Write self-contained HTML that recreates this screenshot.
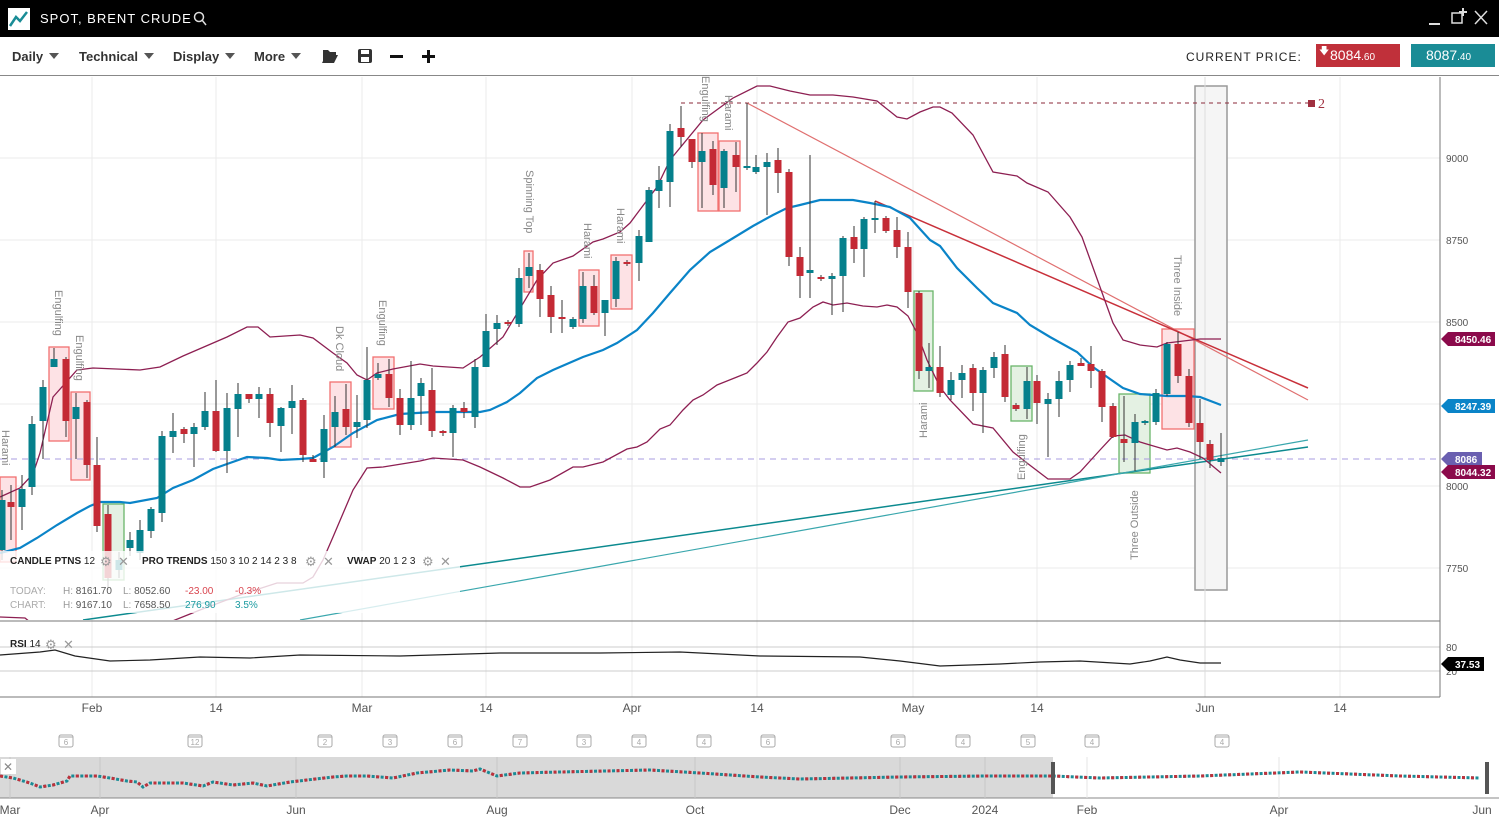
<!DOCTYPE html>
<html><head><meta charset="utf-8">
<style>
*{margin:0;padding:0;box-sizing:border-box}
body{width:1499px;height:827px;overflow:hidden;background:#fff;font-family:"Liberation Sans",sans-serif;position:relative}
.hdr{position:absolute;left:0;top:0;width:1499px;height:37px;background:#000}
.tb{position:absolute;left:0;top:37px;width:1499px;height:39px;border-bottom:1px solid #888;background:#fff}
.mi{position:absolute;top:12px;font-size:13px;font-weight:bold;color:#333}
.tri{display:inline-block;width:0;height:0;border-left:5px solid transparent;border-right:5px solid transparent;border-top:6px solid #555;margin-left:6px;vertical-align:2px}
svg{position:absolute;left:0;top:0}
</style></head><body>
<div class="hdr">
 <div style="position:absolute;left:8px;top:8px;width:22px;height:22px;background:#fff"></div>
 <svg width="40" height="37"><polyline points="10,26 16,17 20,21 27,12" fill="none" stroke="#1a8c96" stroke-width="2.5"/></svg>
 <div style="position:absolute;left:40px;top:11px;color:#fff;font-size:13px;letter-spacing:1px">SPOT, BRENT CRUDE</div>
 <svg width="1499" height="37"><circle cx="199" cy="17" r="4.5" fill="none" stroke="#ddd" stroke-width="1.5"/><line x1="202" y1="20" x2="206" y2="25" stroke="#ddd" stroke-width="1.5"/>
 <line x1="1429" y1="24" x2="1440" y2="24" stroke="#ddd" stroke-width="2"/>
 <rect x="1452" y="13" width="10" height="10" fill="none" stroke="#ddd" stroke-width="1.5"/><path d="M1463 8v8M1459 12h8" stroke="#ddd" stroke-width="2"/>
 <path d="M1475 11l12 13M1487 11l-12 13" stroke="#ddd" stroke-width="1.5"/></svg>
</div>
<div class="tb">
 <div class="mi" style="left:12px">Daily<span class="tri"></span></div>
 <div class="mi" style="left:79px">Technical<span class="tri"></span></div>
 <div class="mi" style="left:173px">Display<span class="tri"></span></div>
 <div class="mi" style="left:254px">More<span class="tri"></span></div>
 <svg width="460" height="39"><path d="M323 13h5l2 2h6v3h-10l-3 8z M322 26l4-8h12l-4 8z" fill="#333"/>
 <rect x="358" y="12" width="14" height="14" rx="2" fill="#333"/><rect x="361" y="13" width="8" height="4" fill="#fff"/><rect x="361" y="20" width="8" height="5" fill="#fff"/>
 <rect x="390" y="18" width="13" height="3" fill="#111"/><rect x="422" y="18" width="13" height="3" fill="#111"/><rect x="427" y="13" width="3" height="13" fill="#111"/></svg>
 <div style="position:absolute;left:1186px;top:13px;font-size:12px;letter-spacing:1px;color:#222">CURRENT PRICE:</div>
 <div style="position:absolute;left:1316px;top:7px;width:84px;height:23px;background:#c0303a;color:#fff;font-size:14px;padding:3px 0 0 14px">8084<span style="font-size:10px">.60</span><span style="position:absolute;left:3px;top:0;font-size:10px">&#129095;</span></div>
 <div style="position:absolute;left:1411px;top:7px;width:84px;height:23px;background:#1a8c96;color:#fff;font-size:14px;padding:3px 0 0 15px">8087<span style="font-size:10px">.40</span></div>
</div>

<svg id="c" width="1499" height="827" style="top:0">
<defs><clipPath id="cp"><rect x="0" y="77" width="1440" height="543"/></clipPath></defs>
<g stroke="#ebebeb" stroke-width="1">
 <line x1="92" y1="77" x2="92" y2="697"/><line x1="216" y1="77" x2="216" y2="697"/><line x1="362" y1="77" x2="362" y2="697"/><line x1="486" y1="77" x2="486" y2="697"/><line x1="632" y1="77" x2="632" y2="697"/><line x1="757" y1="77" x2="757" y2="697"/><line x1="913" y1="77" x2="913" y2="697"/><line x1="1037" y1="77" x2="1037" y2="697"/><line x1="1340" y1="77" x2="1340" y2="697"/>
 <line x1="0" y1="158" x2="1440" y2="158"/><line x1="0" y1="240" x2="1440" y2="240"/><line x1="0" y1="322" x2="1440" y2="322"/><line x1="0" y1="404" x2="1440" y2="404"/><line x1="0" y1="486" x2="1440" y2="486"/><line x1="0" y1="568" x2="1440" y2="568"/>
 <line x1="0" y1="647" x2="1440" y2="647" stroke="#ccc"/><line x1="0" y1="671" x2="1440" y2="671" stroke="#ccc"/>
</g>
<rect x="1195" y="86" width="32" height="504" fill="#f5f5f5" stroke="#999" stroke-width="1.5"/>
<line x1="1205" y1="77" x2="1205" y2="697" stroke="#ddd"/>
<g clip-path="url(#cp)">
<g id="boxes"></g>
<line x1="0" y1="459" x2="1440" y2="459" stroke="#a89ce0" stroke-dasharray="6,5"/>
<line x1="681" y1="103" x2="1310" y2="103" stroke="#8b2a3a" stroke-dasharray="4,4"/>
<rect x="1308" y="100" width="7" height="7" fill="#a03040"/>
<line x1="747" y1="103" x2="1308" y2="400" stroke="#e07070" stroke-width="1.2"/>
<line x1="875" y1="201" x2="1308" y2="388" stroke="#c8303a" stroke-width="1.5"/>
<line x1="83" y1="620" x2="1308" y2="447" stroke="#0c8a8f" stroke-width="1.5"/>
<line x1="300" y1="620" x2="1308" y2="440" stroke="#3aa7ad" stroke-width="1.2"/>
<polyline fill="none" stroke="#8d1f52" stroke-width="1.3" points="0,497 20,488 33,474 40,453 53,397 77,370 93,368 140,370 160,367 183,356 227,337 247,327 258,327 270,337 300,335 313,338 333,353 347,363 357,375 367,380 377,373 393,369 420,364 433,366 463,368 480,357 503,337 537,280 553,263 573,256 593,242 603,239 620,232 630,223 657,187 670,160 703,120 733,98 757,86 770,86 790,91 810,95 833,95 853,97 877,101 897,117 907,119 920,112 933,107 940,107 952,113 973,135 993,172 1017,176 1027,183 1048,192 1070,217 1082,237 1100,287 1113,323 1123,340 1140,345 1157,347 1167,343 1200,339 1221,339"/>
<polyline fill="none" stroke="#8d1f52" stroke-width="1.3" points="0,617 25,618 40,630 60,650 150,650 170,622 200,610 240,595 277,583 303,583 313,577 323,560 333,537 353,490 367,468 383,467 420,461 433,458 463,460 480,467 503,478 520,487 530,487 550,480 573,467 583,467 603,462 627,449 637,447 647,442 660,429 670,425 683,410 693,400 703,395 717,385 737,377 747,373 757,363 767,352 777,337 788,322 800,318 813,307 823,302 833,305 847,303 863,306 877,307 887,305 897,307 908,316 917,333 927,360 940,387 950,400 973,424 993,428 1013,452 1027,463 1048,479 1070,479 1080,472 1100,450 1113,436 1125,435 1140,442 1167,450 1177,448 1190,452 1203,458 1221,473"/>
<polyline fill="none" stroke="#0a84c8" stroke-width="2.2" points="0,553 20,548 37,538 57,525 77,513 90,506 100,502 120,502 130,503 157,498 173,488 193,480 213,469 227,464 247,457 267,458 280,460 300,459 313,458 333,447 353,433 377,420 400,414 433,412 480,412 490,410 507,402 520,393 537,378 553,370 583,357 603,350 617,343 637,330 653,313 670,293 690,270 710,252 730,240 753,226 773,215 787,208 800,205 820,200 853,200 870,203 890,207 910,218 930,240 940,246 957,268 977,288 993,303 1017,313 1030,325 1050,337 1077,352 1093,367 1110,379 1123,388 1140,394 1167,396 1187,396 1200,397 1221,405"/>
<g id="candles"></g>
</g>
<g font-size="11" fill="#888" font-family="Liberation Sans,sans-serif">
 <text transform="translate(2,430) rotate(90)">Harami</text>
 <text transform="translate(55,290) rotate(90)">Engulfing</text>
 <text transform="translate(76,335) rotate(90)">Engulfing</text>
 <text transform="translate(336,326) rotate(90)">Dk Cloud</text>
 <text transform="translate(379,300) rotate(90)">Engulfing</text>
 <text transform="translate(526,170) rotate(90)">Spinning Top</text>
 <text transform="translate(584,223) rotate(90)">Harami</text>
 <text transform="translate(617,208) rotate(90)">Harami</text>
 <text transform="translate(702,76) rotate(90)">Engulfing</text>
 <text transform="translate(725,95) rotate(90)">Harami</text>
 <text transform="translate(1174,255) rotate(90)">Three Inside</text>
 <text transform="translate(927,438) rotate(-90)">Harami</text>
 <text transform="translate(1025,480) rotate(-90)">Engulfing</text>
 <text transform="translate(1138,560) rotate(-90)">Three Outside</text>
</g>
<text x="1318" y="108" font-size="14" fill="#a03040" font-family="Liberation Serif,serif">2</text>
<rect x="0" y="551" width="460" height="62" fill="#fff" opacity="0.8"/>
<g font-size="10" fill="#222" font-family="Liberation Sans,sans-serif">
 <text x="10" y="564"><tspan font-weight="bold">CANDLE PTNS</tspan> 12</text>
 <text x="142" y="564"><tspan font-weight="bold">PRO TRENDS</tspan> 150 3 10 2 14 2 3 8</text>
 <text x="347" y="564"><tspan font-weight="bold">VWAP</tspan> 20 1 2 3</text>
 <text x="10" y="594" fill="#aaa">TODAY:</text><text x="63" y="594" fill="#999">H: <tspan fill="#555">8161.70</tspan></text><text x="123" y="594" fill="#999">L: <tspan fill="#555">8052.60</tspan></text><text x="185" y="594" fill="#d9454f">-23.00</text><text x="235" y="594" fill="#d9454f">-0.3%</text>
 <text x="10" y="608" fill="#aaa">CHART:</text><text x="63" y="608" fill="#999">H: <tspan fill="#555">9167.10</tspan></text><text x="123" y="608" fill="#999">L: <tspan fill="#555">7658.50</tspan></text><text x="185" y="608" fill="#1a9aa0">276.90</text><text x="235" y="608" fill="#1a9aa0">3.5%</text>
 <text x="10" y="647"><tspan font-weight="bold">RSI</tspan> 14</text>
</g>
<g fill="#999" font-size="13" font-weight="bold" font-family="DejaVu Sans,sans-serif">
 <text x="100" y="566">⚙</text><text x="118" y="566">✕</text>
 <text x="305" y="566">⚙</text><text x="323" y="566">✕</text>
 <text x="422" y="566">⚙</text><text x="440" y="566">✕</text>
 <text x="45" y="649">⚙</text><text x="63" y="649">✕</text>
</g>
<line x1="0" y1="621" x2="1440" y2="621" stroke="#777"/>
<line x1="0" y1="697" x2="1440" y2="697" stroke="#777"/>
<line x1="1440" y1="77" x2="1440" y2="697" stroke="#777"/>
<polyline fill="none" stroke="#222" stroke-width="1.2" points="0,655 40,652 55,650 75,656 110,661 150,660 200,657 250,658 300,655 400,656 500,653 600,653 680,652 760,656 860,657 900,661 940,666 1000,664 1040,662 1080,661 1130,664 1150,661 1167,657 1180,660 1200,663 1221,663"/>
<g font-size="10" fill="#555" font-family="Liberation Sans,sans-serif">
 <text x="1446" y="162">9000</text><text x="1446" y="244">8750</text><text x="1446" y="326">8500</text><text x="1446" y="490">8000</text><text x="1446" y="572">7750</text><text x="1446" y="651">80</text><text x="1446" y="675">20</text>
</g>
<g font-size="10" font-weight="bold" fill="#fff" font-family="Liberation Sans,sans-serif">
 <path d="M1441 339l7-7h47v14h-47z" fill="#8b0a4b"/><text x="1455" y="343">8450.46</text>
 <path d="M1441 406l7-7h47v14h-47z" fill="#0a84c8"/><text x="1455" y="410">8247.39</text>
 <path d="M1441 459l7-7h34v14h-34z" fill="#6a5fb0"/><text x="1455" y="463">8086</text>
 <path d="M1441 472l7-7h47v14h-47z" fill="#8b0a4b"/><text x="1455" y="476">8044.32</text>
 <path d="M1441 664l7-7h36v14h-36z" fill="#000"/><text x="1455" y="668">37.53</text>
</g>
<g font-size="12" fill="#555" text-anchor="middle" font-family="Liberation Sans,sans-serif">
 <text x="92" y="712">Feb</text><text x="216" y="712">14</text><text x="362" y="712">Mar</text><text x="486" y="712">14</text><text x="632" y="712">Apr</text><text x="757" y="712">14</text><text x="913" y="712">May</text><text x="1037" y="712">14</text><text x="1205" y="712">Jun</text><text x="1340" y="712">14</text>
</g>
<g id="cal" font-size="8" fill="#aaa" text-anchor="middle" font-family="Liberation Sans,sans-serif"></g>
<rect x="0" y="757" width="1053" height="41" fill="#d9d9d9"/>
<line x1="0" y1="798" x2="1499" y2="798" stroke="#888"/>
<g stroke="#c8c8c8"><line x1="10" y1="757" x2="10" y2="798"/><line x1="100" y1="757" x2="100" y2="798"/><line x1="296" y1="757" x2="296" y2="798"/><line x1="497" y1="757" x2="497" y2="798"/><line x1="695" y1="757" x2="695" y2="798"/><line x1="900" y1="757" x2="900" y2="798"/><line x1="985" y1="757" x2="985" y2="798"/><line x1="1087" y1="757" x2="1087" y2="798" stroke="#e6e6e6"/><line x1="1279" y1="757" x2="1279" y2="798" stroke="#e6e6e6"/></g>
<polyline fill="none" stroke="#1a8c96" stroke-width="3" stroke-dasharray="3,1.5" points="0,776 13,778 30,783 40,787 53,785 67,781 70,776 97,776 110,778 127,781 137,782 143,787 150,783 183,783 203,786 213,782 233,785 253,783 267,786 290,782 307,780 333,777 347,776 367,776 393,778 417,773 450,770 473,771 480,769 497,776 520,773 560,772 650,770 700,773 760,777 800,779 900,777 985,776 1053,776 1100,778 1200,776 1300,772 1400,776 1480,778"/>
<polyline fill="none" stroke="#c0303a" stroke-width="3" stroke-dasharray="3,6" points="0,776 13,778 30,783 40,787 53,785 67,781 70,776 97,776 110,778 127,781 137,782 143,787 150,783 183,783 203,786 213,782 233,785 253,783 267,786 290,782 307,780 333,777 347,776 367,776 393,778 417,773 450,770 473,771 480,769 497,776 520,773 560,772 650,770 700,773 760,777 800,779 900,777 985,776 1053,776 1100,778 1200,776 1300,772 1400,776 1480,778"/>
<rect x="1051" y="762" width="4" height="32" fill="#555"/><rect x="1485" y="762" width="4" height="32" fill="#555"/>
<rect x="1" y="759" width="15" height="15" fill="#fff"/><text x="3" y="771" font-size="12" font-weight="bold" fill="#888" font-family="DejaVu Sans,sans-serif">✕</text>
<g font-size="12" fill="#555" text-anchor="middle" font-family="Liberation Sans,sans-serif">
 <text x="10" y="814">Mar</text><text x="100" y="814">Apr</text><text x="296" y="814">Jun</text><text x="497" y="814">Aug</text><text x="695" y="814">Oct</text><text x="900" y="814">Dec</text><text x="985" y="814">2024</text><text x="1087" y="814">Feb</text><text x="1279" y="814">Apr</text><text x="1482" y="814">Jun</text>
</g>
</svg>
<script>
var NS="http://www.w3.org/2000/svg";
function el(p,t,a){var e=document.createElementNS(NS,t);for(var k in a)e.setAttribute(k,a[k]);p.appendChild(e);return e;}
var B=[[0,477,16,85,'p'],[49,347,20,94,'p'],[71,392,19,88,'p'],[103,504,21,76,'g'],[330,382,21,65,'p'],[373,357,21,52,'p'],[524,251,9,41,'p'],[579,270,20,56,'p'],[611,255,21,54,'p'],[698,133,20,78,'p'],[719,141,21,70,'p'],[914,291,19,100,'g'],[1011,366,21,55,'g'],[1119,394,31,79,'g'],[1162,329,32,100,'p']];
var bg=document.getElementById('boxes');
B.forEach(function(b){el(bg,'rect',{x:b[0],y:b[1],width:b[2],height:b[3],fill:b[4]=='p'?'#fde2e5':'#e4f1e3',stroke:b[4]=='p'?'#f27070':'#6ab56a','stroke-width':1.3});});
var C=[[2,500,550,490,560,'g'],[11,502,507,485,540,'r'],[22,489,507,475,530,'g'],[32,424,487,416,495,'g'],[43,387,421,380,459,'g'],[54,359,367,348,367,'g'],[66,359,421,357,437,'r'],[76,407,419,393,459,'g'],[87,402,465,400,478,'r'],[97,465,526,437,532,'r'],[108,514,578,505,590,'r'],[119,560,570,552,578,'g'],[130,540,548,532,556,'g'],[140,530,553,520,560,'g'],[151,509,531,507,538,'g'],[162,436,513,431,522,'g'],[173,431,437,413,453,'g'],[184,429,434,427,443,'r'],[194,427,434,423,467,'g'],[205,411,427,392,430,'g'],[216,411,451,380,452,'r'],[227,408,451,393,473,'g'],[238,394,409,383,437,'g'],[249,394,399,394,403,'r'],[259,394,399,387,418,'g'],[270,394,423,388,437,'r'],[281,408,426,407,452,'g'],[292,401,408,385,434,'g'],[303,400,455,398,462,'r'],[313,459,462,455,462,'r'],[324,429,462,415,478,'g'],[335,412,427,396,447,'g'],[346,409,427,384,435,'r'],[357,422,427,395,438,'g'],[367,380,420,347,428,'g'],[378,374,378,363,380,'g'],[389,374,398,359,407,'r'],[400,398,425,389,435,'r'],[411,398,425,361,430,'g'],[421,383,396,378,425,'g'],[432,390,431,368,437,'r'],[443,431,433,430,436,'r'],[453,408,433,405,457,'g'],[464,408,412,402,418,'r'],[475,367,417,359,428,'g'],[486,331,367,314,367,'g'],[497,323,329,315,345,'g'],[508,322,324,320,326,'r'],[519,278,324,268,327,'g'],[529,267,276,253,288,'g'],[540,270,299,264,317,'r'],[551,295,317,286,333,'r'],[562,317,319,300,333,'r'],[573,319,327,317,329,'g'],[583,286,319,272,323,'g'],[594,286,313,275,315,'r'],[605,300,313,300,336,'g'],[616,261,299,257,307,'g'],[627,262,264,260,266,'r'],[639,236,263,230,281,'g'],[649,190,242,187,242,'g'],[659,180,191,166,208,'g'],[670,131,182,124,207,'g'],[681,128,137,106,147,'r'],[692,139,162,139,168,'r'],[702,151,162,133,208,'g'],[713,149,185,141,195,'r'],[724,151,188,149,208,'g'],[736,155,167,142,192,'r'],[747,166,168,103,170,'g'],[756,167,172,155,174,'g'],[767,162,167,153,215,'g'],[778,160,173,148,193,'r'],[789,172,257,169,266,'r'],[800,257,276,247,298,'r'],[810,270,273,155,298,'g'],[821,277,279,275,281,'r'],[832,276,279,273,315,'g'],[843,238,276,236,312,'g'],[854,237,249,226,263,'r'],[864,219,249,217,277,'g'],[875,218,220,201,233,'g'],[886,218,231,216,233,'r'],[897,230,247,217,258,'r'],[908,247,292,232,308,'r'],[919,293,371,291,379,'r'],[929,367,371,343,388,'g'],[940,367,393,346,397,'r'],[951,380,395,372,400,'g'],[962,373,380,365,398,'g'],[973,368,393,364,411,'r'],[983,370,393,367,433,'g'],[994,357,368,352,378,'g'],[1005,354,397,345,402,'r'],[1016,405,409,403,411,'r'],[1027,381,409,367,419,'g'],[1037,381,403,375,424,'r'],[1048,399,404,393,457,'g'],[1059,381,399,371,417,'g'],[1070,365,380,361,392,'g'],[1081,363,366,358,366,'r'],[1091,364,371,346,388,'r'],[1102,371,407,369,422,'r'],[1113,406,437,403,438,'r'],[1124,439,443,396,462,'r'],[1135,422,443,414,471,'g'],[1145,421,423,420,425,'g'],[1156,393,422,389,425,'g'],[1167,344,394,342,396,'g'],[1178,344,376,332,383,'r'],[1189,376,423,369,427,'r'],[1200,423,442,399,459,'r'],[1210,444,460,440,468,'r'],[1221,458,462,433,466,'g']];
var cg=document.getElementById('candles');
C.forEach(function(c){el(cg,'line',{x1:c[0],x2:c[0],y1:c[3],y2:c[4],stroke:'#333','stroke-width':1});
el(cg,'rect',{x:c[0]-3.5,y:c[1],width:7,height:Math.max(2,c[2]-c[1]),fill:c[5]=='r'?'#c42a35':'#05808c'});});
var K=[[66,6],[195,12],[325,2],[390,3],[455,6],[520,7],[584,3],[639,4],[704,4],[768,6],[898,6],[963,4],[1028,5],[1092,4],[1222,4]];
var kg=document.getElementById('cal');
K.forEach(function(k){el(kg,'rect',{x:k[0]-7,y:735,width:14,height:12,rx:2,fill:'#fff',stroke:'#aaa'});el(kg,'line',{x1:k[0]-7,x2:k[0]+7,y1:737,y2:737,stroke:'#aaa'});var t=el(kg,'text',{x:k[0],y:745});t.textContent=k[1];});
</script>
</body></html>
